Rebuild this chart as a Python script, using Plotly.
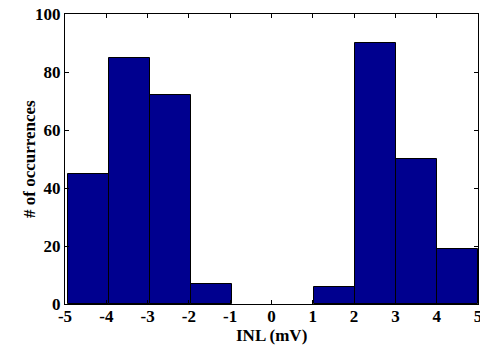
import plotly.graph_objects as go

# Histogram bins (edges in mV) and counts
bin_edges = [-4.93, -3.937, -2.944, -1.951, -0.958, 0.035, 1.028, 2.021, 3.014, 4.007, 5.0]
counts = [45, 85, 72, 7, 0, 0, 6, 90, 50, 19]

x_ticks = [-5, -4, -3, -2, -1, 0, 1, 2, 3, 4, 5]
y_ticks = [0, 20, 40, 60, 80, 100]

x_title = "INL (mV)"
y_title = "# of occurrences"

centers = [(a + b) / 2 for a, b in zip(bin_edges[:-1], bin_edges[1:])]
widths = [b - a for a, b in zip(bin_edges[:-1], bin_edges[1:])]
line_w = [1 if c > 0 else 0 for c in counts]

font = dict(family="Liberation Serif, Times New Roman, serif", size=17, color="black")

fig = go.Figure(go.Bar(
    x=centers, y=counts, width=widths,
    marker=dict(color="#00008f", line=dict(color="black", width=line_w)),
    hoverinfo="skip",
))

axis_common = dict(
    showline=True, linecolor="black", linewidth=1, mirror="allticks",
    ticks="inside", ticklen=4, tickcolor="black", tickwidth=1,
    showgrid=False, zeroline=False, tickfont=font, automargin=False,
    ticklabeloverflow="allow",
)

fig.update_layout(
    width=480, height=350,
    margin=dict(l=65, r=2, t=14, b=46),
    plot_bgcolor="white", paper_bgcolor="white",
    showlegend=False, bargap=0,
    xaxis=dict(range=[-5, 5], tickvals=x_ticks, ticktext=[f"<b>{v}</b>" for v in x_ticks],
               ticklabelstandoff=-3, **axis_common),
    yaxis=dict(range=[0, 100], tickvals=y_ticks, ticktext=[f"<b>{v}</b>" for v in y_ticks],
               **axis_common),
    annotations=[
        dict(text=f"<b>{x_title}</b>", xref="paper", yref="paper", x=0.5, y=0,
             xanchor="center", yanchor="middle", yshift=-31, showarrow=False, font=font),
        dict(text=f"<b>{y_title}</b>", xref="paper", yref="paper", x=0, y=0.5,
             xanchor="center", yanchor="middle", xshift=-36, textangle=-90,
             showarrow=False, font=font),
    ],
)

fig.write_html("out.html", config={"displayModeBar": False},
               post_script="document.body.style.margin='0';")
